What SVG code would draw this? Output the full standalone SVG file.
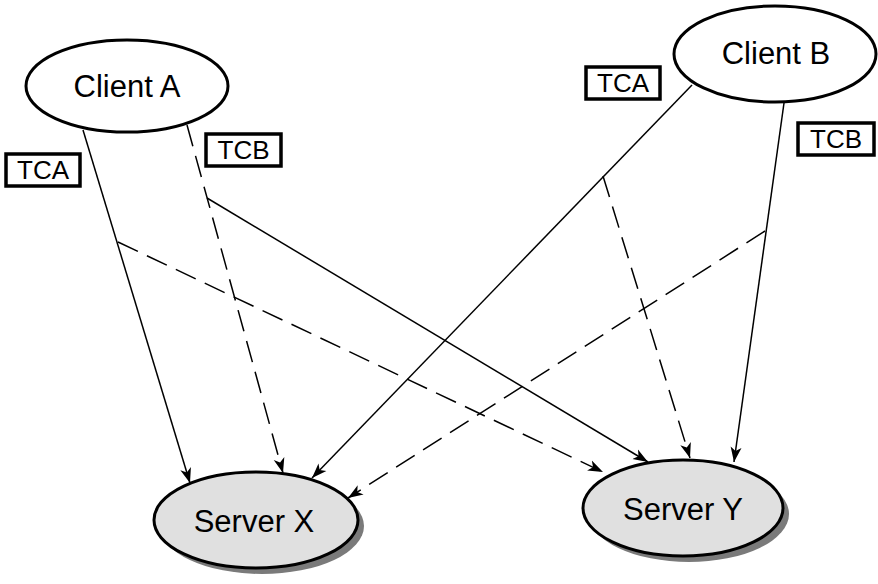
<svg xmlns="http://www.w3.org/2000/svg" width="878" height="584" viewBox="0 0 878 584">
<style>
.node ellipse.body{stroke:#000;stroke-width:3}
.client{fill:#fff}
.server{fill:#e0e0e0}
.shadow{fill:#7a7a7a;stroke:none}
.big{font-family:"Liberation Sans",Arial,sans-serif;font-size:31px;fill:#000;text-anchor:middle}
.lbl rect{fill:#fff;stroke:#000;stroke-width:3.5}
.lbl text{font-family:"Liberation Sans",Arial,sans-serif;font-size:26px;fill:#000;text-anchor:middle}
.solid{stroke:#000;stroke-width:1.5;fill:none}
.dash{stroke:#000;stroke-width:1.5;fill:none;stroke-dasharray:22 10}
.arr{marker-end:url(#ah)}
</style>
<defs>
<marker id="ah" markerUnits="userSpaceOnUse" markerWidth="16" markerHeight="12" viewBox="0 0 16 12" refX="15" refY="6" orient="auto">
<path d="M0,0.5 L15,6 L0,11.5 L4,6 Z" fill="#000"/>
</marker>
</defs>
<g id="connectors">
<line class="solid arr" x1="83" y1="130" x2="190" y2="483"/>
<line class="dash arr" x1="118" y1="242" x2="603" y2="472"/>
<line class="dash arr" x1="187" y1="125" x2="283" y2="473"/>
<line class="solid arr" x1="207" y1="198" x2="648" y2="462"/>
<line class="solid arr" x1="692" y1="85" x2="312" y2="478"/>
<line class="dash arr" x1="603" y1="176" x2="690" y2="458"/>
<line class="solid arr" x1="784" y1="103" x2="734" y2="462"/>
<line class="dash arr" x1="765" y1="231" x2="348" y2="498"/>
</g>
<g id="clientA" class="node">
<ellipse class="body client" cx="127" cy="86" rx="101" ry="46"/>
<text class="big" x="127" y="97">Client A</text>
</g>
<g id="clientB" class="node">
<ellipse class="body client" cx="775" cy="54" rx="101" ry="48"/>
<text class="big" x="776" y="64">Client B</text>
</g>
<g id="serverX" class="node">
<ellipse class="shadow" cx="262" cy="526" rx="102" ry="48"/>
<ellipse class="body server" cx="256" cy="520" rx="102" ry="48"/>
<text class="big" x="254" y="532">Server X</text>
</g>
<g id="serverY" class="node">
<ellipse class="shadow" cx="689" cy="514" rx="100" ry="48"/>
<ellipse class="body server" cx="683" cy="508" rx="100" ry="48"/>
<text class="big" x="683" y="520">Server Y</text>
</g>
<g id="labelA_TCA" class="lbl">
<rect x="6" y="154" width="74" height="32"/>
<text x="43" y="179">TCA</text>
</g>
<g id="labelA_TCB" class="lbl">
<rect x="206" y="134" width="75" height="32"/>
<text x="243.5" y="159">TCB</text>
</g>
<g id="labelB_TCA" class="lbl">
<rect x="586" y="67" width="74" height="32"/>
<text x="623" y="92">TCA</text>
</g>
<g id="labelB_TCB" class="lbl">
<rect x="798" y="123" width="76" height="32"/>
<text x="836" y="148">TCB</text>
</g>
</svg>
